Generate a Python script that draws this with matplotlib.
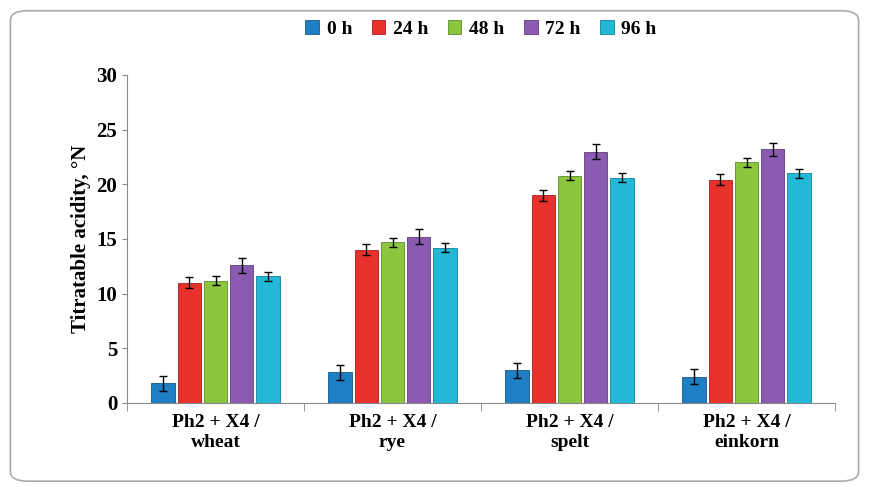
import matplotlib
matplotlib.use("Agg")
import matplotlib.pyplot as plt
import numpy as np
from matplotlib.patches import FancyBboxPatch

categories = ["Ph2 + X4 /\nwheat", "Ph2 + X4 /\nrye", "Ph2 + X4 /\nspelt", "Ph2 + X4 /\neinkorn"]
series = ["0 h", "24 h", "48 h", "72 h", "96 h"]
values = [
    [1.8, 2.8, 3.0, 2.4],
    [11.0, 14.0, 19.0, 20.4],
    [11.2, 14.7, 20.8, 22.0],
    [12.6, 15.2, 23.0, 23.2],
    [11.6, 14.2, 20.6, 21.0],
]
errors = [
    [0.7, 0.7, 0.7, 0.7],
    [0.5, 0.5, 0.5, 0.5],
    [0.4, 0.4, 0.4, 0.4],
    [0.7, 0.7, 0.7, 0.6],
    [0.4, 0.4, 0.4, 0.4],
]
colors = ["#1f7fc4", "#e8302c", "#8cc63f", "#8a5bb0", "#22b8d6"]
edges = ["#15598a", "#a3201e", "#5f8a2a", "#5e3d7a", "#15809a"]

fig = plt.figure(figsize=(8.69, 4.87), dpi=100)
fig.patches.append(FancyBboxPatch((0.012, 0.012), 0.976, 0.966, boxstyle="round,pad=0,rounding_size=0.02",
                                  transform=fig.transFigure, fill=False, edgecolor="#aaaaaa", lw=1.2))
ax = fig.add_axes([127/869, 1-403/487, (835-127)/869, (403-75)/487])
x = np.arange(len(categories))
w = 0.147
for i, s in enumerate(series):
    ax.bar(x + (i-2)*w, values[i], w*0.92, color=colors[i], edgecolor=edges[i], lw=0.6,
           yerr=errors[i], capsize=3, error_kw=dict(ecolor="black", lw=1, capthick=1), label=s)
ax.set_xlim(-0.5, 3.5)
ax.set_ylim(0, 30)
ax.set_yticks(range(0, 31, 5))
ax.set_xticks(x)
ax.set_xticklabels(categories, fontsize=14, fontweight="bold", family="Liberation Serif")
for t in ax.get_yticklabels():
    t.set_fontsize(15); t.set_fontweight("bold"); t.set_family("Liberation Serif")
ax.set_ylabel("Titratable acidity, °N", fontsize=15, fontweight="bold", family="Liberation Serif")
ax.spines["top"].set_visible(False)
ax.spines["right"].set_visible(False)
ax.spines["left"].set_color("#888888")
ax.spines["bottom"].set_color("#888888")
ax.set_xticks([-0.5, 0.5, 1.5, 2.5, 3.5], minor=True)
ax.tick_params(axis="x", which="major", length=0, pad=8)
ax.tick_params(axis="x", which="minor", length=6, color="#888888")
ax.tick_params(axis="y", color="#888888")
ax.legend(loc="upper center", bbox_to_anchor=(0.5, 1.22), ncol=5, frameon=False,
          prop=dict(family="Liberation Serif", weight="bold", size=14), handlelength=0.7,
          handleheight=0.7, columnspacing=1.0, handletextpad=0.4)
fig.savefig("out.png", dpi=100)
